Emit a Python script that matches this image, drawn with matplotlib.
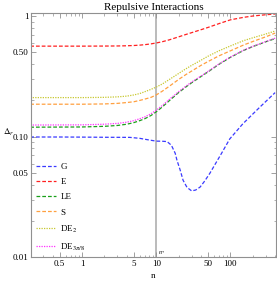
import matplotlib
matplotlib.use("Agg")
import matplotlib.pyplot as plt
from matplotlib.ticker import FixedLocator, FixedFormatter, LogLocator, NullFormatter

plt.rcParams["font.family"] = ["Liberation Serif", "DejaVu Serif"]
plt.rcParams["mathtext.fontset"] = "stix"

# values (n, Delta_r)
n_vals = [0.2, 1, 2, 3, 4, 5, 6, 7, 8.5, 10, 12, 15, 20, 25, 30, 40, 50, 70,
          100, 150, 200, 300, 400]
E_vals = [0.563, 0.563, 0.564, 0.565, 0.567, 0.570, 0.574, 0.579, 0.588, 0.598,
          0.612, 0.635, 0.672, 0.703, 0.728, 0.77, 0.805, 0.865, 0.93, 0.975,
          1.0, 1.025, 1.04]
LE_vals = [0.120, 0.1205, 0.122, 0.124, 0.127, 0.131, 0.136, 0.141, 0.150, 0.161,
           0.176, 0.199, 0.232, 0.258, 0.28, 0.315, 0.345, 0.398, 0.455, 0.518,
           0.558, 0.612, 0.65]
S_vals = [0.186, 0.186, 0.187, 0.189, 0.192, 0.195, 0.200, 0.205, 0.212, 0.222,
          0.238, 0.262, 0.298, 0.327, 0.35, 0.39, 0.42, 0.468, 0.515, 0.575,
          0.615, 0.673, 0.722]
DE2_vals = [0.211, 0.211, 0.212, 0.214, 0.217, 0.222, 0.228, 0.236, 0.247, 0.258,
            0.273, 0.298, 0.334, 0.365, 0.39, 0.43, 0.465, 0.515, 0.565, 0.625,
            0.66, 0.71, 0.751]
DE38_vals = [0.125, 0.1255, 0.127, 0.129, 0.132, 0.136, 0.141, 0.146, 0.155, 0.166,
             0.181, 0.204, 0.236, 0.262, 0.284, 0.318, 0.348, 0.401, 0.458, 0.521,
             0.561, 0.615, 0.655]

n_G = [0.2, 0.5, 1, 2, 4.4, 6, 8, 10, 12, 14, 16, 18, 19, 21, 23, 26, 30, 34,
       39, 45, 53, 62, 75, 98, 147, 247, 400]
G_vals = [0.0995, 0.0995, 0.0993, 0.099, 0.0988, 0.097, 0.094, 0.092, 0.0918,
          0.0912, 0.085, 0.073, 0.064, 0.053, 0.0436, 0.038, 0.0356, 0.0362,
          0.0383, 0.043, 0.050, 0.059, 0.072, 0.096, 0.128, 0.175, 0.232]

n_star = 10
xticks = [0.5, 1, 5, 10, 50, 100]
xtick_labels = ["0.5", "1", "5", "10", "50", "100"]
yticks = [0.01, 0.05, 0.10, 0.50, 1]
ytick_labels = ["0.01", "0.05", "0.10", "0.50", "1"]

fig = plt.figure(figsize=(2.77, 2.82), dpi=100)
ax = fig.add_axes([0.112, 0.087, 0.884, 0.867])

dash = (0, (3, 1.6))
dot = (0, (1, 1))
ax.plot(n_G, G_vals, color="#3a3aff", lw=0.9, ls=dash, label="G")
ax.plot(n_vals, E_vals, color="#ff2020", lw=0.9, ls=dash, label="E")
ax.plot(n_vals, LE_vals, color="#1aa01a", lw=0.9, ls=dash, label="LE")
ax.plot(n_vals, S_vals, color="#ffa040", lw=0.9, ls=dash, label="S")
ax.plot(n_vals, DE2_vals, color="#c8c830", lw=0.9, ls=dot, label="DE$_2$")
ax.plot(n_vals, DE38_vals, color="#ff30ff", lw=0.9, ls=dot, label=r"DE$_{3\pi/8}$")

ax.axvline(n_star, color="#a8a8a8", lw=1.1, zorder=0)
ax.text(n_star * 1.06, 0.0103, r"$n_*$", fontsize=4.5, ha="left", va="bottom")

ax.set_xscale("log")
ax.set_yscale("log")
ax.set_xlim(0.205, 410)
ax.set_ylim(0.01, 1.06)

ax.xaxis.set_major_locator(FixedLocator(xticks))
ax.xaxis.set_major_formatter(FixedFormatter(xtick_labels))
ax.xaxis.set_minor_locator(LogLocator(base=10, subs=range(2, 10), numticks=20))
ax.xaxis.set_minor_formatter(NullFormatter())
ax.yaxis.set_major_locator(FixedLocator(yticks))
ax.yaxis.set_major_formatter(FixedFormatter(ytick_labels))
ax.yaxis.set_minor_locator(LogLocator(base=10, subs=range(2, 10), numticks=20))
ax.yaxis.set_minor_formatter(NullFormatter())

ax.tick_params(which="both", direction="in", top=True, right=True,
               color="#909090", labelsize=6.5, pad=2)
ax.tick_params(which="major", length=3.5, width=0.6)
ax.tick_params(which="minor", length=1.8, width=0.5)
for s in ax.spines.values():
    s.set_color("#909090")
    s.set_linewidth(0.8)

ax.set_title("Repulsive Interactions", fontsize=8, pad=2)
ax.set_xlabel("n", fontsize=6.5, labelpad=3)
ax.text(-0.115, 0.51, r"$\Delta_r$", transform=ax.transAxes, fontsize=6.5,
        ha="left", va="center")

ax.legend(loc="lower left", bbox_to_anchor=(0.0, 0.0), frameon=False,
          fontsize=6.5, handlelength=2.2, handletextpad=0.5, labelspacing=0.75,
          borderaxespad=0.15)

fig.savefig("out.png", dpi=100)
